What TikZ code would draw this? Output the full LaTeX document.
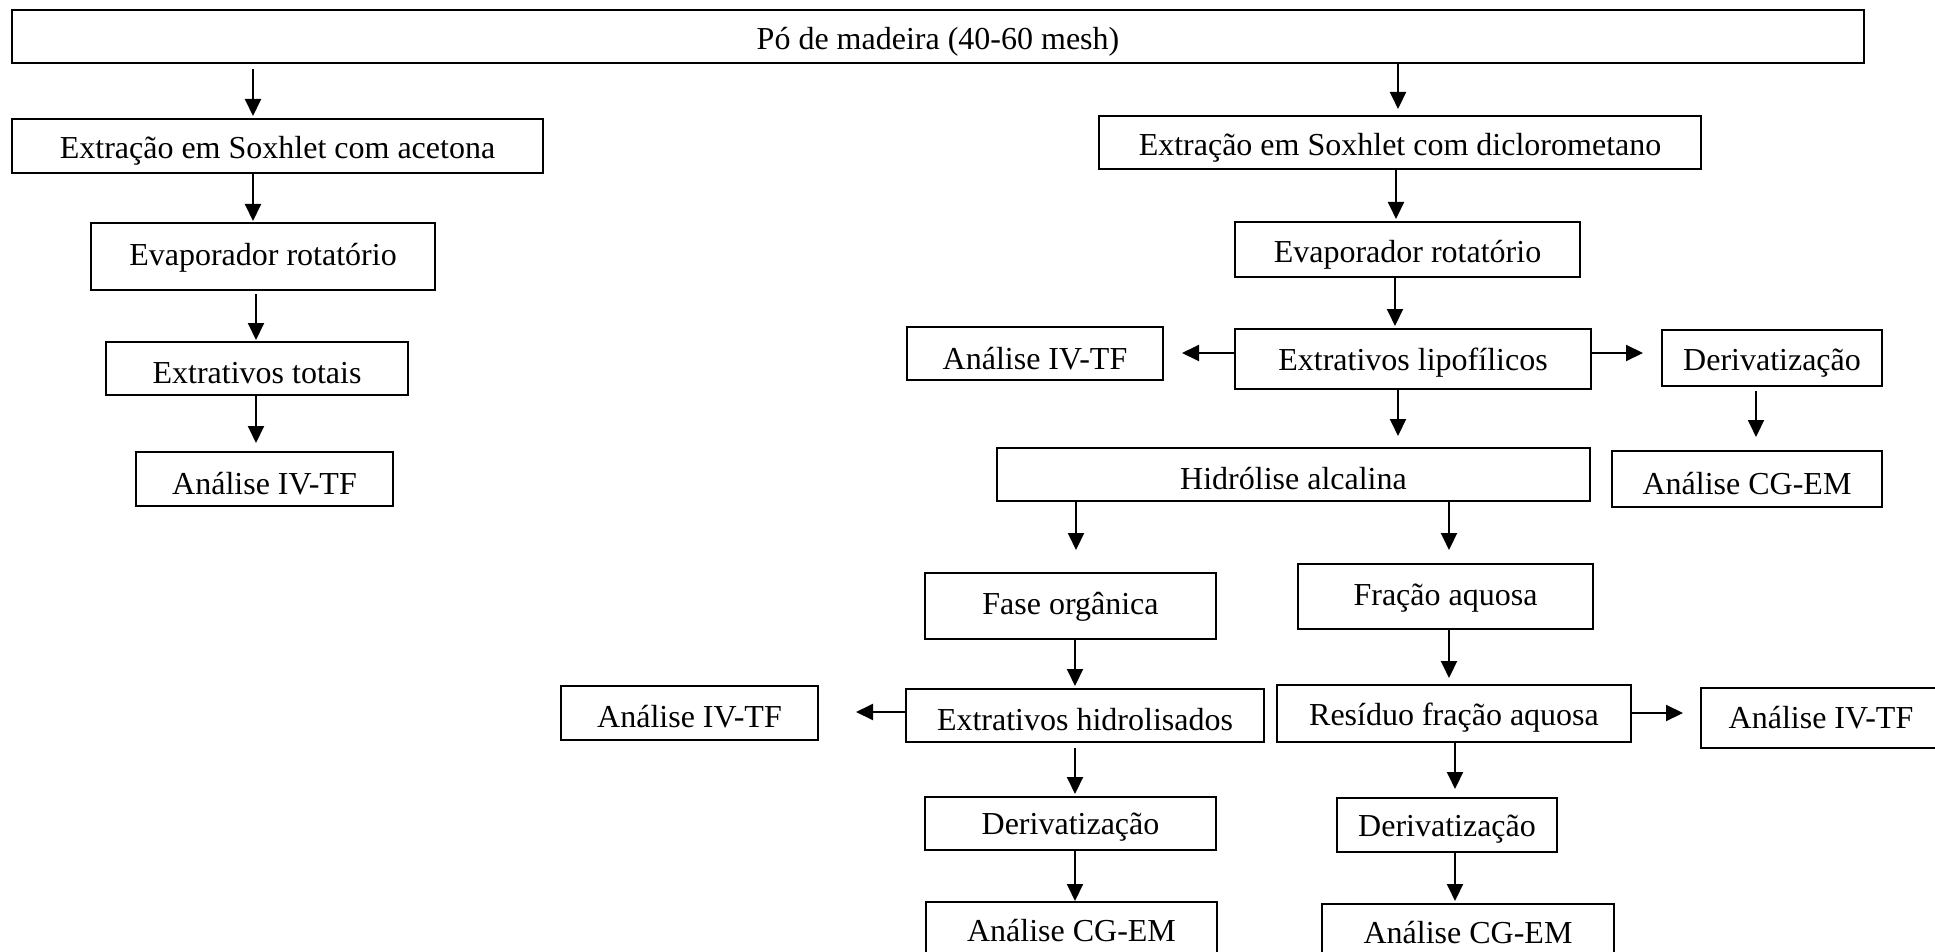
\documentclass[tikz,border=0pt]{standalone}
\usepackage{fontspec}
\setmainfont{Liberation Serif}
\usetikzlibrary{arrows.meta}
\tikzset{
  box/.style={draw=black, line width=2pt, inner sep=0pt, font=\fontsize{32pt}{38pt}\selectfont, text=black},
  arr/.style={line width=2pt, -{Triangle[length=17pt,width=16pt]}},
}
\newcommand{\bx}[7][5pt]{% [text drop], name, x1, x2, y1, y2, text
  \node[box, minimum width={#4-#3}, minimum height={#6-#5}] (#2) at ({(#3+#4)/2},{(#5+#6)/2}) {\raisebox{-#1}[\height][\depth]{#7}};}
\begin{document}
\begin{tikzpicture}[x=1pt,y=-1pt]
\useasboundingbox (0,0) rectangle (1935,952);
\bx{top}{12}{1864}{10}{63}{Pó de madeira (40-60 mesh)}
\bx{ace}{12}{543}{119}{173}{Extração em Soxhlet com acetona}
\bx[1pt]{evapa}{91}{435}{223}{290}{Evaporador rotatório}
\bx{tot}{106}{408}{342}{395}{Extrativos totais}
\bx{iva}{136}{393}{452}{506}{Análise IV-TF}
\bx{dcm}{1099}{1701}{116}{169}{Extração em Soxhlet com diclorometano}
\bx{evapb}{1235}{1580}{222}{277}{Evaporador rotatório}
\bx[4pt]{lipo}{1235}{1591}{329}{389}{Extrativos lipofílicos}
\bx{ivb}{907}{1163}{327}{380}{Análise IV-TF}
\bx{dera}{1662}{1882}{330}{386}{Derivatização}
\bx{cga}{1612}{1882}{451}{507}{Análise CG-EM}
\bx[4pt]{hid}{997}{1590}{448}{501}{Hidrólise alcalina}
\bx[1pt]{org}{925}{1216}{573}{639}{Fase orgânica}
\bx[4pt]{hidro}{906}{1264}{689}{742}{Extrativos hidrolisados}
\bx[4pt]{ivc}{561}{818}{686}{740}{Análise IV-TF}
\bx[4pt]{derb}{925}{1216}{797}{850}{Derivatização}
\node[box, minimum width=291pt, minimum height=58pt, anchor=north west] (cgb) at (925,901) {Análise CG-EM};
\bx[2pt]{aq}{1298}{1593}{564}{629}{Fração aquosa}
\bx[4pt]{res}{1277}{1631}{685}{742}{Resíduo fração aquosa}
\node[box, minimum width=248pt, minimum height=60pt, anchor=north west] (ivd) at (1700,687) {\hspace*{-8pt}Análise IV-TF};
\bx[4pt]{derc}{1337}{1557}{798}{852}{Derivatização}
\node[box, minimum width=292pt, minimum height=58pt, anchor=north west] (cgc) at (1321,903) {Análise CG-EM};
% vertical arrows
\draw[arr, shorten <=5pt, shorten >=2pt] (253,0 |- top.south) -- (253,0 |- ace.north);
\draw[arr, shorten >=1pt] (253,0 |- ace.south) -- (253,0 |- evapa.north);
\draw[arr, shorten <=3pt, shorten >=1pt] (256,0 |- evapa.south) -- (256,0 |- tot.north);
\draw[arr, shorten >=8pt] (256,0 |- tot.south) -- (256,0 |- iva.north);
\draw[arr, shorten >=6pt] (1398,0 |- top.south) -- (1398,0 |- dcm.north);
\draw[arr, shorten >=2pt] (1396,0 |- dcm.south) -- (1396,0 |- evapb.north);
\draw[arr, shorten >=2pt] (1395,0 |- evapb.south) -- (1395,0 |- lipo.north);
\draw[arr, shorten >=11pt] (1398,0 |- lipo.south) -- (1398,0 |- hid.north);
\draw[arr, shorten <=4pt, shorten >=13pt] (1756,0 |- dera.south) -- (1756,0 |- cga.north);
\draw[arr, shorten >=22pt] (1076,0 |- hid.south) -- (1076,0 |- org.north);
\draw[arr, shorten >=13pt] (1449,0 |- hid.south) -- (1449,0 |- aq.north);
\draw[arr, shorten >=2pt] (1075,0 |- org.south) -- (1075,0 |- hidro.north);
\draw[arr, shorten <=5pt, shorten >=2pt] (1075,0 |- hidro.south) -- (1075,0 |- derb.north);
\draw[arr] (1075,0 |- derb.south) -- (1075,0 |- cgb.north);
\draw[arr, shorten >=6pt] (1449,0 |- aq.south) -- (1449,0 |- res.north);
\draw[arr, shorten >=8pt] (1455,0 |- res.south) -- (1455,0 |- derc.north);
\draw[arr, shorten >=2pt] (1455,0 |- derc.south) -- (1455,0 |- cgc.north);
% horizontal arrows
\draw[arr, shorten >=18pt] (lipo.west |- 0,353) -- (ivb.east |- 0,353);
\draw[arr, shorten >=18pt] (lipo.east |- 0,353) -- (dera.west |- 0,353);
\draw[arr, shorten >=37pt] (hidro.west |- 0,712) -- (ivc.east |- 0,712);
\draw[arr, shorten >=17pt] (res.east |- 0,713) -- (ivd.west |- 0,713);
\end{tikzpicture}
\end{document}
